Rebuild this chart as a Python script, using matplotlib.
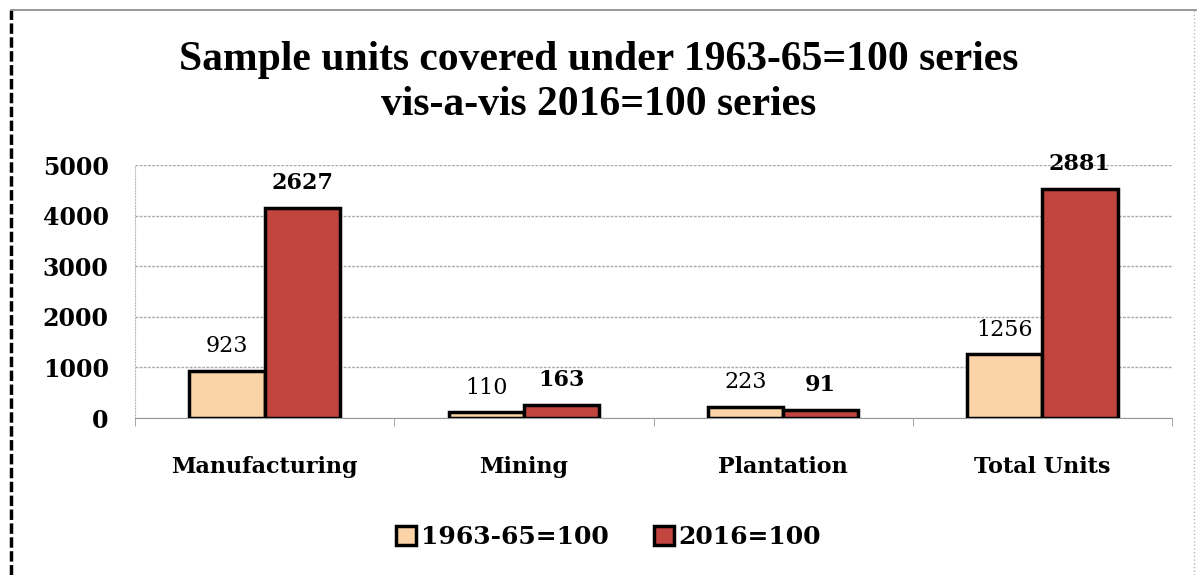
import numpy as np
import matplotlib.pyplot as plt
from matplotlib.lines import Line2D

categories = ['Manufacturing', 'Mining', 'Plantation', 'Total Units']
series_names = ['1963-65=100', '2016=100']
# bar heights as drawn in the source picture
old_heights = [923, 110, 223, 1256]
new_heights = [4150, 250, 165, 4530]
# values printed on top of the bars
old_labels = ['923', '110', '223', '1256']
new_labels = ['2627', '163', '91', '2881']
yticks = [0, 1000, 2000, 3000, 4000, 5000]

serif = ['DejaVu Serif']
title_font = ['Liberation Serif', 'DejaVu Serif']
fig = plt.figure(figsize=(11.98, 5.75), dpi=100)
ax = fig.add_axes([0.1127, 0.273, 0.8656, 0.44])

x = np.arange(len(categories))
w = 0.29
b1 = ax.bar(x - w / 2, old_heights, w, color='#FAD4A6', edgecolor='black', linewidth=2.5,
            label=series_names[0], zorder=3)
b2 = ax.bar(x + w / 2, new_heights, w, color='#C2443F', edgecolor='black', linewidth=2.5,
            label=series_names[1], zorder=3)

for rect, lab in zip(b1, old_labels):
    ax.annotate(lab, (rect.get_x() + rect.get_width() / 2, rect.get_height()),
                xytext=(0, 10), textcoords='offset points', ha='center', va='bottom',
                fontsize=16, family=serif)
for rect, lab in zip(b2, new_labels):
    ax.annotate(lab, (rect.get_x() + rect.get_width() / 2, rect.get_height()),
                xytext=(0, 10), textcoords='offset points', ha='center', va='bottom',
                fontsize=16, fontweight='bold', family=serif)

ax.set_xlim(-0.5, len(categories) - 0.5)
ax.set_ylim(0, 5000)
ax.set_yticks(yticks)
ax.set_yticklabels([str(t) for t in yticks], fontsize=17, fontweight='bold', family=serif)
ax.set_xticks(x)
ax.set_xticklabels(categories, fontsize=16, fontweight='bold', family=serif)
ax.tick_params(axis='x', length=0, pad=27)
ax.tick_params(axis='y', length=0, pad=19)
ax.set_xticks(np.arange(-0.5, len(categories)), minor=True)
ax.tick_params(axis='x', which='minor', length=6, color='#999999')
ax.grid(axis='y', color='#aaaaaa', linestyle=(0, (2, 1)), linewidth=1, zorder=0)
for s in ['top', 'right']:
    ax.spines[s].set_visible(False)
ax.spines['left'].set_color('#bbbbbb')
ax.spines['left'].set_linestyle(':')
ax.spines['bottom'].set_color('#999999')

fig.text(0.5, 0.857, 'Sample units covered under 1963-65=100 series\nvis-a-vis 2016=100 series',
         ha='center', va='center', fontsize=30, fontweight='bold', family=title_font, linespacing=1.25)

leg = fig.legend(handles=[b1, b2], loc='center', bbox_to_anchor=(0.508, 0.066), ncol=2, frameon=False,
                 prop={'family': serif, 'size': 18, 'weight': 'bold'}, handlelength=0.8,
                 handleheight=0.8, handletextpad=0.2, columnspacing=1.8)

# outer frame of the original picture
fig.add_artist(Line2D([0.009, 0.009], [0.0, 0.983], color='black', lw=2.5, linestyle=(0, (3, 1))))
fig.add_artist(Line2D([0.009, 0.998], [0.983, 0.983], color='#888888', lw=1.2))
fig.add_artist(Line2D([0.997, 0.997], [0.0, 0.983], color='#bbbbbb', lw=1, linestyle=':'))

fig.savefig('out.png', dpi=100)
